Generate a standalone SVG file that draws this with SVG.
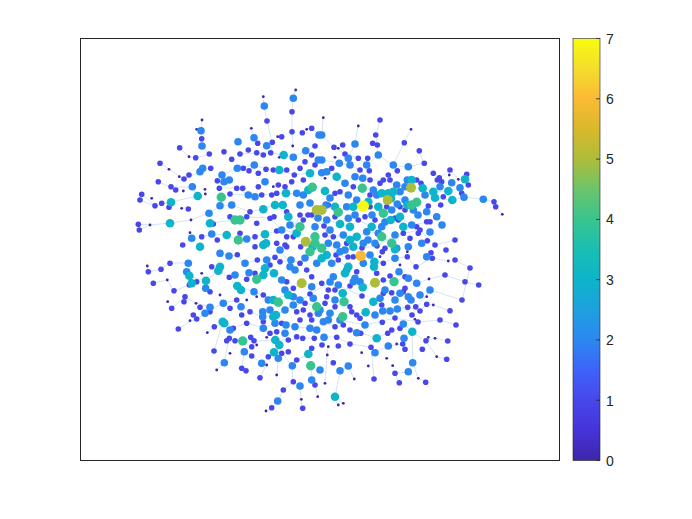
<svg xmlns="http://www.w3.org/2000/svg" width="692" height="519" viewBox="0 0 692 519">
<style>
.lbl{font-family:"Liberation Sans",Arial,sans-serif;font-size:14px;fill:#262626}
.edge{fill:none;stroke:#b6d2ec;stroke-width:0.7;stroke-opacity:0.85}
</style>
<defs>
<linearGradient id="parula" x1="0" y1="1" x2="0" y2="0">
<stop offset="0" stop-color="#3e26a8"/>
<stop offset="0.071" stop-color="#4533d8"/>
<stop offset="0.143" stop-color="#4747eb"/>
<stop offset="0.214" stop-color="#3d63f9"/>
<stop offset="0.286" stop-color="#2c87f0"/>
<stop offset="0.357" stop-color="#1fa0e0"/>
<stop offset="0.429" stop-color="#0db4ca"/>
<stop offset="0.5" stop-color="#19bfb3"/>
<stop offset="0.571" stop-color="#38c48e"/>
<stop offset="0.643" stop-color="#6cc46b"/>
<stop offset="0.714" stop-color="#adbd3a"/>
<stop offset="0.786" stop-color="#dab82b"/>
<stop offset="0.857" stop-color="#fbba35"/>
<stop offset="0.929" stop-color="#f4dd2d"/>
<stop offset="1" stop-color="#f9fb0e"/>
</linearGradient>
<circle id="n0" r="1.4" fill="#3e26a8"/>
<circle id="n1" r="2.8" fill="#4747eb"/>
<circle id="n2" r="3.8" fill="#2c87f0"/>
<circle id="n3" r="4.3" fill="#0db4ca"/>
<circle id="n4" r="4.7" fill="#38c48e"/>
<circle id="n5" r="5" fill="#adbd3a"/>
<circle id="n6" r="5.3" fill="#fbba35"/>
<circle id="n7" r="5.7" fill="#f9fb0e"/>
</defs>
<rect x="0" y="0" width="692" height="519" fill="#ffffff"/>
<g id="axes">
<rect x="80.5" y="38.5" width="479" height="422" fill="#ffffff" stroke="#262626" stroke-width="1"/>
</g>
<g id="connectors">
<path class="edge" d="M240 154 L256 153 L271 153 L284 155 L293 157 L306 151 L315 146 M222 175 L237 168 L254 165 L266 169 L279 170 L294 175 L310 173 M219 188 L237 188 L248 195 L262 195 L277 193 L286 193 L303 195 M209 213 L220 206 L232 205 L250 212 L263 209 L275 205 L288 217 L300 227 M210 223 L235 220 L247 217 L270 218 L282 230 L297 233 M201 237 L212 234 L227 235 L238 240 L255 237 L265 234 L277 231 M321 135 L334 147 L345 154 L358 158 L367 165 L378 155 L393 165 L408 167 M322 160 L339 163 L350 165 L360 170 L370 180 L383 180 L397 185 L411 188 L423 188 L433 192 M327 172 L337 177 L345 183 L353 187 L362 188 L373 190 L382 193 L393 192 L407 205 L417 202 M322 210 L335 207 L338 212 L347 207 L353 207 L363 206 L370 207 L378 207 L388 200 L398 204 M327 220 L340 224 L350 227 L358 220 L372 227 L382 227 L391 220 L400 217 L412 225 L427 222 M325 235 L333 237 L343 235 L357 237 L367 232 L378 233 L382 237 L392 243 L403 233 L410 238 M220 253 L229 256 L237 255 L245 263 L257 260 L267 260 L275 257 L280 262 L291 260 L300 263 L310 252 M189 276 L206 281 L218 271 L229 277 L237 286 L254 292 L263 295 L274 300 L286 295 L294 288 L302 283 M205 313 L223 303 L237 300 L250 312 L263 317 L276 315 L294 305 L305 303 L317 307 M214 327 L224 323 L233 328 L247 323 L264 328 L275 323 L286 325 L296 327 L310 328 M227 341 L243 341 L254 341 L276 340 L288 340 L303 338 L314 338 M244 352 L252 356 L262 363 L274 352 L282 353 L292 366 L297 360 L308 354 M322 258 L332 263 L338 260 L347 267 L353 257 L361 256 L370 255 L374 262 L383 263 L395 258 L407 257 L416 267 L432 258 M321 283 L328 290 L335 290 L343 293 L350 286 L355 278 L363 287 L375 283 L383 280 L394 282 L405 277 L417 283 M320 310 L330 313 L335 307 L344 302 L350 307 L357 315 L366 312 L373 302 L382 305 L390 311 L397 309 L408 307 L420 311 M323 322 L335 327 L343 325 L350 330 L361 333 L376 338 L388 333 L400 328 L404 324 L412 332 M324 337 L337 337 L350 344 L371 347 L375 353 L388 346 L403 344 L405 349 M295 90 L293 98 L292 112 L292 132 L293 146 M263 97 L264 106 L267 121 L272 142 L271 153 M202 120 L201 131 L202 139 L202 146 L209 154 M197 129 L201 131 M180 148 L189 157 L196 158 L209 154 M160 163 L169 169 L184 179 L200 172 M158 182 L171 187 L192 187 L198 196 M142 194 L155 206 L171 202 L198 196 M140 200 L155 206 M138 224 L150 225 L170 223 L191 220 L209 213 M139 230 L150 225 M251 128 L254 138 L258 143 M307 129 L312 128 L319 135 M323 118 L322 135 M358 126 L355 144 L348 158 M380 120 L376 135 L377 145 L378 155 M411 129 L404 143 L393 165 M419 151 L424 163 L408 167 M502 214 L496 207 L494 202 L483 199 L464 197 L452 200 L435 198 M467 174 L465 179 L460 188 L448 191 L433 192 M458 179 L450 170 L439 178 L433 173 M148 272 L161 269 L170 263 L188 263 M147 266 L148 272 M153 283 L167 280 L174 291 L189 285 L192 283 M172 308 L185 297 L196 303 L210 307 M178 329 L191 321 L197 319 L205 313 M214 351 L223 321 M207 333 L214 327 M217 370 L224 363 L229 338 M266 411 L272 408 L278 401 L283 390 L293 382 L292 366 M302 408 L301 399 L300 386 L293 382 M318 397 L315 385 L312 380 L311 366 M335 397 L340 371 L348 366 M343 403 L335 397 M338 405 L335 397 M374 379 L371 347 L375 353 M354 379 L348 366 M399 383 L395 373 L408 372 L413 363 L412 332 M426 382 L418 378 L413 363 M447 359 L437 357 L426 341 L412 332 M448 341 L435 338 L426 341 M450 311 L433 305 L427 304 L420 311 M465 282 L445 275 L429 279 L417 283 M479 285 L465 282 M448 261 L432 258 M256 378 L260 378 L266 365 M277 375 L278 358 M246 371 L242 368 L244 352 M325 383 L327 355 L328 347 M300 205 L310 203 L318 218 L330 230 L345 250 L362 248 L377 246 L395 235 L420 230 L435 245 L455 240 M285 245 L300 215 L308 215 L324 226 L336 255 L348 257 M385 290 L395 300 L412 315 L430 290 L462 300 L470 268 L455 260 M340 320 L365 325 L395 318 L418 322 L440 320 L456 325 M230 194 L248 195 M280 250 L295 270 L305 258 M285 310 L310 294 L330 282 L362 296"/>
</g>
<g id="nodes">
<g id="deg0">
<use href="#n0" x="295.7" y="90"/><use href="#n0" x="263.3" y="96.7"/><use href="#n0" x="202" y="120"/><use href="#n0" x="196.7" y="129.3"/><use href="#n0" x="189" y="156.7"/><use href="#n0" x="251.3" y="128.3"/><use href="#n0" x="277.7" y="136.7"/><use href="#n0" x="306.7" y="129.3"/><use href="#n0" x="292.7" y="146"/><use href="#n0" x="279.3" y="157.3"/><use href="#n0" x="169" y="169.3"/><use href="#n0" x="179.3" y="176.7"/><use href="#n0" x="183.3" y="191"/><use href="#n0" x="151.7" y="198.3"/><use href="#n0" x="181.7" y="208.3"/><use href="#n0" x="150" y="225"/><use href="#n0" x="191" y="220"/><use href="#n0" x="205.3" y="194"/><use href="#n0" x="205" y="189.3"/><use href="#n0" x="273.3" y="186.7"/><use href="#n0" x="190" y="232.7"/>
<use href="#n0" x="323.3" y="117.7"/><use href="#n0" x="358.3" y="126"/><use href="#n0" x="411" y="129.3"/><use href="#n0" x="338.3" y="148.3"/><use href="#n0" x="335" y="157.3"/><use href="#n0" x="325" y="178.3"/><use href="#n0" x="449.3" y="175"/><use href="#n0" x="458.3" y="179.3"/><use href="#n0" x="502.3" y="214.3"/>
<use href="#n0" x="147.3" y="266"/><use href="#n0" x="167.3" y="280"/><use href="#n0" x="167.7" y="301.7"/><use href="#n0" x="201.7" y="273.3"/><use href="#n0" x="196" y="303.3"/><use href="#n0" x="190" y="320.7"/><use href="#n0" x="207.3" y="332.7"/><use href="#n0" x="220" y="295"/><use href="#n0" x="256.7" y="296.7"/><use href="#n0" x="246.7" y="300"/><use href="#n0" x="230" y="353.3"/><use href="#n0" x="216.7" y="370"/><use href="#n0" x="256.7" y="345"/><use href="#n0" x="266.7" y="337.3"/><use href="#n0" x="266.7" y="365"/><use href="#n0" x="276.7" y="375"/><use href="#n0" x="266" y="411"/><use href="#n0" x="301.3" y="399.3"/><use href="#n0" x="317.7" y="396.7"/>
<use href="#n0" x="380" y="256.7"/><use href="#n0" x="407.3" y="251.7"/><use href="#n0" x="400" y="265"/><use href="#n0" x="448.3" y="261"/><use href="#n0" x="429" y="279"/><use href="#n0" x="415" y="319.3"/><use href="#n0" x="396.7" y="344"/><use href="#n0" x="426.7" y="296.7"/><use href="#n0" x="433.3" y="305"/><use href="#n0" x="428.3" y="337.3"/><use href="#n0" x="435" y="338.3"/><use href="#n0" x="436.7" y="356.7"/><use href="#n0" x="418.3" y="378.3"/><use href="#n0" x="392.7" y="365.7"/><use href="#n0" x="386.7" y="358.3"/><use href="#n0" x="368.3" y="366"/><use href="#n0" x="361.7" y="352.7"/><use href="#n0" x="354.3" y="379"/><use href="#n0" x="328.3" y="346.7"/><use href="#n0" x="327.3" y="355"/><use href="#n0" x="325" y="383.3"/><use href="#n0" x="343.3" y="403.3"/><use href="#n0" x="338.3" y="405"/>
</g>
<g id="deg1">
<use href="#n1" x="292" y="111.7"/><use href="#n1" x="267" y="121"/><use href="#n1" x="201.7" y="138.7"/><use href="#n1" x="179.7" y="147.7"/><use href="#n1" x="195.7" y="157.7"/><use href="#n1" x="209.3" y="154"/><use href="#n1" x="224" y="151.7"/><use href="#n1" x="257.7" y="143.3"/><use href="#n1" x="272.3" y="142.3"/><use href="#n1" x="281.7" y="136.7"/><use href="#n1" x="292" y="131.7"/><use href="#n1" x="302.3" y="132.7"/><use href="#n1" x="311.7" y="128.3"/><use href="#n1" x="315" y="146"/><use href="#n1" x="270.7" y="152.7"/><use href="#n1" x="263.3" y="155"/><use href="#n1" x="256.7" y="152.7"/><use href="#n1" x="248.3" y="150"/><use href="#n1" x="240" y="154"/><use href="#n1" x="231.7" y="159.3"/><use href="#n1" x="210.7" y="168.3"/><use href="#n1" x="160" y="163.3"/><use href="#n1" x="158.3" y="181.7"/><use href="#n1" x="184" y="179"/><use href="#n1" x="189" y="175"/><use href="#n1" x="171" y="186.7"/><use href="#n1" x="175.7" y="190"/><use href="#n1" x="141.7" y="194.3"/><use href="#n1" x="140" y="200"/><use href="#n1" x="155" y="205.7"/><use href="#n1" x="161.7" y="203.3"/><use href="#n1" x="169" y="207.3"/><use href="#n1" x="188.3" y="209"/><use href="#n1" x="138.3" y="224.3"/><use href="#n1" x="139.3" y="230"/><use href="#n1" x="219.3" y="188.3"/><use href="#n1" x="217.3" y="180.7"/><use href="#n1" x="243.3" y="168.3"/><use href="#n1" x="249" y="170.7"/><use href="#n1" x="258.3" y="173.3"/><use href="#n1" x="266" y="169.3"/><use href="#n1" x="273.3" y="170"/><use href="#n1" x="286.7" y="170"/><use href="#n1" x="294.3" y="175"/><use href="#n1" x="300" y="168.3"/><use href="#n1" x="315" y="165"/><use href="#n1" x="311.7" y="155"/><use href="#n1" x="305" y="161.7"/><use href="#n1" x="236.7" y="188.3"/><use href="#n1" x="242.7" y="188.3"/><use href="#n1" x="261.7" y="195"/><use href="#n1" x="258.3" y="186.7"/><use href="#n1" x="271.7" y="195"/><use href="#n1" x="276.7" y="193.3"/><use href="#n1" x="278.3" y="185"/><use href="#n1" x="285" y="186.7"/><use href="#n1" x="291.7" y="181.7"/><use href="#n1" x="303.3" y="180"/><use href="#n1" x="311.7" y="215"/><use href="#n1" x="303.3" y="220"/><use href="#n1" x="213.3" y="224"/><use href="#n1" x="230" y="216.7"/><use href="#n1" x="255" y="236.7"/><use href="#n1" x="276.7" y="231"/><use href="#n1" x="286.7" y="236.7"/><use href="#n1" x="293.3" y="236.7"/><use href="#n1" x="276.7" y="243.3"/><use href="#n1" x="270" y="218.3"/><use href="#n1" x="274" y="216.7"/><use href="#n1" x="250" y="211.7"/><use href="#n1" x="246.7" y="216.7"/><use href="#n1" x="217.3" y="240"/><use href="#n1" x="201.7" y="236.7"/><use href="#n1" x="182.7" y="245"/><use href="#n1" x="255" y="246.7"/><use href="#n1" x="286.7" y="246.7"/><use href="#n1" x="300.7" y="246.7"/><use href="#n1" x="240" y="233.3"/><use href="#n1" x="256.7" y="223.3"/><use href="#n1" x="286.7" y="211.7"/>
<use href="#n1" x="380" y="120"/><use href="#n1" x="375.7" y="135"/><use href="#n1" x="404.3" y="142.7"/><use href="#n1" x="419.3" y="150.7"/><use href="#n1" x="424.3" y="163.3"/><use href="#n1" x="397.3" y="170.7"/><use href="#n1" x="388.3" y="175"/><use href="#n1" x="383.3" y="180"/><use href="#n1" x="372.7" y="143.3"/><use href="#n1" x="377.3" y="145"/><use href="#n1" x="342.7" y="145"/><use href="#n1" x="334" y="147.3"/><use href="#n1" x="345" y="154"/><use href="#n1" x="331.7" y="168.3"/><use href="#n1" x="358.3" y="158.3"/><use href="#n1" x="367.7" y="158.3"/><use href="#n1" x="360" y="170"/><use href="#n1" x="369.3" y="170.7"/><use href="#n1" x="370" y="180"/><use href="#n1" x="353.3" y="186.7"/><use href="#n1" x="340" y="191.7"/><use href="#n1" x="335" y="193.3"/><use href="#n1" x="380" y="183.3"/><use href="#n1" x="390" y="180"/><use href="#n1" x="416.7" y="180"/><use href="#n1" x="421" y="183.3"/><use href="#n1" x="370" y="195"/><use href="#n1" x="433.3" y="173.3"/><use href="#n1" x="439.3" y="177.7"/><use href="#n1" x="437.3" y="180"/><use href="#n1" x="441.7" y="181.7"/><use href="#n1" x="450" y="170"/><use href="#n1" x="466.7" y="174.3"/><use href="#n1" x="468.3" y="185"/><use href="#n1" x="443.3" y="196.7"/><use href="#n1" x="461.7" y="193.3"/><use href="#n1" x="494" y="201.7"/><use href="#n1" x="495.7" y="206.7"/><use href="#n1" x="440.7" y="205"/><use href="#n1" x="428.3" y="206"/><use href="#n1" x="405" y="210"/><use href="#n1" x="400" y="206.7"/><use href="#n1" x="386.7" y="206.7"/><use href="#n1" x="370" y="206.7"/><use href="#n1" x="328.3" y="205"/><use href="#n1" x="335" y="216.7"/><use href="#n1" x="358.3" y="220"/><use href="#n1" x="365" y="216.7"/><use href="#n1" x="375" y="220"/><use href="#n1" x="398.3" y="220"/><use href="#n1" x="416.7" y="226.7"/><use href="#n1" x="418.3" y="233.3"/><use href="#n1" x="426.7" y="221.7"/><use href="#n1" x="430" y="221.7"/><use href="#n1" x="410" y="238.3"/><use href="#n1" x="403.3" y="233.3"/><use href="#n1" x="333.3" y="236.7"/><use href="#n1" x="325" y="235"/><use href="#n1" x="346.7" y="243.3"/><use href="#n1" x="427.3" y="240.7"/><use href="#n1" x="385" y="248.3"/>
<use href="#n1" x="148.3" y="271.7"/><use href="#n1" x="161" y="269.3"/><use href="#n1" x="170" y="263.3"/><use href="#n1" x="153.3" y="283.3"/><use href="#n1" x="174" y="290.7"/><use href="#n1" x="185" y="296.7"/><use href="#n1" x="184" y="301.7"/><use href="#n1" x="171.7" y="308.3"/><use href="#n1" x="189.3" y="285"/><use href="#n1" x="196.7" y="281.7"/><use href="#n1" x="210" y="291.7"/><use href="#n1" x="200" y="307.3"/><use href="#n1" x="210" y="311.7"/><use href="#n1" x="193.3" y="315"/><use href="#n1" x="196.7" y="319"/><use href="#n1" x="178.3" y="329"/><use href="#n1" x="214.3" y="326.7"/><use href="#n1" x="211.7" y="266.7"/><use href="#n1" x="237.3" y="254.7"/><use href="#n1" x="229.3" y="277.3"/><use href="#n1" x="246.7" y="279.3"/><use href="#n1" x="255" y="273.3"/><use href="#n1" x="257.3" y="260"/><use href="#n1" x="270" y="265"/><use href="#n1" x="275" y="257.3"/><use href="#n1" x="280" y="261.7"/><use href="#n1" x="286.7" y="281.7"/><use href="#n1" x="300" y="263.3"/><use href="#n1" x="306.7" y="270"/><use href="#n1" x="311.7" y="276.7"/><use href="#n1" x="293.3" y="288.3"/><use href="#n1" x="263.3" y="295"/><use href="#n1" x="250" y="311.7"/><use href="#n1" x="241.7" y="315"/><use href="#n1" x="230" y="308.3"/><use href="#n1" x="236.7" y="300"/><use href="#n1" x="233.3" y="328.3"/><use href="#n1" x="229.3" y="338.3"/><use href="#n1" x="226.7" y="340.7"/><use href="#n1" x="235" y="340.7"/><use href="#n1" x="250.7" y="337.3"/><use href="#n1" x="246.7" y="323.3"/><use href="#n1" x="254" y="340.7"/><use href="#n1" x="251.7" y="346.7"/><use href="#n1" x="263.3" y="321.7"/><use href="#n1" x="281.7" y="323.3"/><use href="#n1" x="276.7" y="331.7"/><use href="#n1" x="270" y="333.3"/><use href="#n1" x="288.3" y="340"/><use href="#n1" x="296.7" y="336.7"/><use href="#n1" x="302.7" y="338.3"/><use href="#n1" x="300" y="320"/><use href="#n1" x="296.7" y="311.7"/><use href="#n1" x="303.3" y="310"/><use href="#n1" x="305" y="303.3"/><use href="#n1" x="310" y="315"/><use href="#n1" x="311.7" y="320"/><use href="#n1" x="314.3" y="338.3"/><use href="#n1" x="311.7" y="348.3"/><use href="#n1" x="296.7" y="360"/><use href="#n1" x="288.3" y="351.7"/><use href="#n1" x="281.7" y="353.3"/><use href="#n1" x="268.3" y="356.7"/><use href="#n1" x="251.7" y="356"/><use href="#n1" x="214" y="351"/><use href="#n1" x="241.7" y="368.3"/><use href="#n1" x="246" y="370.7"/><use href="#n1" x="260" y="377.7"/><use href="#n1" x="283.3" y="390"/><use href="#n1" x="271.7" y="407.7"/><use href="#n1" x="302.7" y="408.3"/><use href="#n1" x="293.3" y="381.7"/><use href="#n1" x="315" y="385"/>
<use href="#n1" x="338.3" y="260"/><use href="#n1" x="353.3" y="256.7"/><use href="#n1" x="383.3" y="263.3"/><use href="#n1" x="382.3" y="251.7"/><use href="#n1" x="407.3" y="256.7"/><use href="#n1" x="432.3" y="258.3"/><use href="#n1" x="431" y="252.7"/><use href="#n1" x="416" y="266.7"/><use href="#n1" x="445" y="275"/><use href="#n1" x="405" y="276.7"/><use href="#n1" x="390" y="276"/><use href="#n1" x="383.3" y="280"/><use href="#n1" x="376.7" y="273.3"/><use href="#n1" x="356.7" y="271.7"/><use href="#n1" x="350" y="286"/><use href="#n1" x="335" y="290"/><use href="#n1" x="328.3" y="290"/><use href="#n1" x="321.7" y="283.3"/><use href="#n1" x="326.7" y="296.7"/><use href="#n1" x="325" y="303.3"/><use href="#n1" x="335" y="306.7"/><use href="#n1" x="350" y="306.7"/><use href="#n1" x="351.7" y="311.7"/><use href="#n1" x="356.7" y="315"/><use href="#n1" x="360" y="318.3"/><use href="#n1" x="335" y="326.7"/><use href="#n1" x="343.3" y="325"/><use href="#n1" x="350" y="330"/><use href="#n1" x="360.7" y="333.3"/><use href="#n1" x="336.7" y="337.3"/><use href="#n1" x="350" y="344"/><use href="#n1" x="338.3" y="346"/><use href="#n1" x="333.3" y="362.7"/><use href="#n1" x="371" y="347.3"/><use href="#n1" x="391.7" y="330"/><use href="#n1" x="387.7" y="333.3"/><use href="#n1" x="402.7" y="344"/><use href="#n1" x="405" y="349.3"/><use href="#n1" x="400" y="328.3"/><use href="#n1" x="420" y="311"/><use href="#n1" x="415.7" y="306.7"/><use href="#n1" x="407.7" y="307.3"/><use href="#n1" x="381.7" y="305"/><use href="#n1" x="382.3" y="322.3"/><use href="#n1" x="383.3" y="293.3"/><use href="#n1" x="391.7" y="292.7"/><use href="#n1" x="403.3" y="291.7"/><use href="#n1" x="405" y="288.3"/><use href="#n1" x="426.7" y="304.3"/><use href="#n1" x="450" y="310.7"/><use href="#n1" x="465" y="281.7"/><use href="#n1" x="478.7" y="285"/><use href="#n1" x="426" y="340.7"/><use href="#n1" x="422.3" y="349.3"/><use href="#n1" x="447.7" y="341"/><use href="#n1" x="446.7" y="359.3"/><use href="#n1" x="425.7" y="382.3"/><use href="#n1" x="399.3" y="382.7"/><use href="#n1" x="395" y="373.3"/><use href="#n1" x="374" y="379"/>
<use href="#n1" x="308" y="215"/><use href="#n1" x="324" y="226"/><use href="#n1" x="336" y="255"/><use href="#n1" x="348" y="257"/><use href="#n1" x="362" y="248"/><use href="#n1" x="377" y="246"/><use href="#n1" x="395" y="218"/><use href="#n1" x="420" y="230"/><use href="#n1" x="435" y="245"/><use href="#n1" x="446" y="250"/><use href="#n1" x="455" y="240"/><use href="#n1" x="310" y="294"/><use href="#n1" x="322" y="345"/><use href="#n1" x="362" y="296"/><use href="#n1" x="395" y="318"/><use href="#n1" x="412" y="315"/><use href="#n1" x="418" y="322"/><use href="#n1" x="440" y="320"/><use href="#n1" x="456" y="325"/><use href="#n1" x="462" y="300"/><use href="#n1" x="470" y="268"/><use href="#n1" x="455" y="260"/><use href="#n1" x="300" y="215"/><use href="#n1" x="285" y="245"/><use href="#n1" x="230" y="194"/>
</g>
<g id="deg2">
<use href="#n2" x="293.3" y="98.3"/><use href="#n2" x="264.3" y="106"/><use href="#n2" x="201" y="130.7"/><use href="#n2" x="202" y="146"/><use href="#n2" x="238" y="141.7"/><use href="#n2" x="254" y="137.7"/><use href="#n2" x="266.7" y="145.7"/><use href="#n2" x="319" y="135"/><use href="#n2" x="305.7" y="150.7"/><use href="#n2" x="293.3" y="157.3"/><use href="#n2" x="202.7" y="168.3"/><use href="#n2" x="200" y="171.7"/><use href="#n2" x="192.3" y="186.7"/><use href="#n2" x="209" y="213.3"/><use href="#n2" x="220" y="205.7"/><use href="#n2" x="224" y="181.7"/><use href="#n2" x="229.3" y="180"/><use href="#n2" x="222" y="175"/><use href="#n2" x="237.3" y="168.3"/><use href="#n2" x="254.3" y="165"/><use href="#n2" x="318.3" y="160"/><use href="#n2" x="231.7" y="205"/><use href="#n2" x="248.3" y="195"/><use href="#n2" x="255" y="196.7"/><use href="#n2" x="265" y="181.7"/><use href="#n2" x="296.7" y="193.3"/><use href="#n2" x="303.3" y="195"/><use href="#n2" x="315" y="226.7"/><use href="#n2" x="246.7" y="239"/><use href="#n2" x="281.7" y="230"/><use href="#n2" x="211.7" y="234"/><use href="#n2" x="191.7" y="238.3"/>
<use href="#n2" x="321.7" y="135"/><use href="#n2" x="408.3" y="166.7"/><use href="#n2" x="393.3" y="165"/><use href="#n2" x="378.3" y="155"/><use href="#n2" x="366.7" y="165"/><use href="#n2" x="355" y="144"/><use href="#n2" x="348.3" y="158.3"/><use href="#n2" x="339.3" y="163.3"/><use href="#n2" x="321.7" y="160"/><use href="#n2" x="350" y="165"/><use href="#n2" x="355" y="176.7"/><use href="#n2" x="326.7" y="171.7"/><use href="#n2" x="321.7" y="172.7"/><use href="#n2" x="362.7" y="178.3"/><use href="#n2" x="345" y="183.3"/><use href="#n2" x="348.3" y="195"/><use href="#n2" x="373.3" y="190"/><use href="#n2" x="396.7" y="185"/><use href="#n2" x="407.3" y="180"/><use href="#n2" x="405" y="186.7"/><use href="#n2" x="400" y="191.7"/><use href="#n2" x="376.7" y="195"/><use href="#n2" x="451.7" y="182.7"/><use href="#n2" x="460" y="187.7"/><use href="#n2" x="440" y="186.7"/><use href="#n2" x="425" y="195"/><use href="#n2" x="464" y="197.3"/><use href="#n2" x="483.3" y="199.3"/><use href="#n2" x="436.7" y="216.7"/><use href="#n2" x="426.7" y="211.7"/><use href="#n2" x="405" y="200"/><use href="#n2" x="413.3" y="210"/><use href="#n2" x="397.3" y="204"/><use href="#n2" x="391.7" y="210"/><use href="#n2" x="356.7" y="200"/><use href="#n2" x="346.7" y="206.7"/><use href="#n2" x="326.7" y="220"/><use href="#n2" x="348.3" y="218.3"/><use href="#n2" x="381.7" y="226.7"/><use href="#n2" x="411.7" y="225"/><use href="#n2" x="378.3" y="233.3"/><use href="#n2" x="366.7" y="231.7"/><use href="#n2" x="343.3" y="235"/><use href="#n2" x="328.3" y="243.3"/><use href="#n2" x="336.7" y="245"/><use href="#n2" x="363.3" y="243.3"/><use href="#n2" x="375" y="243.3"/><use href="#n2" x="396.7" y="248.3"/><use href="#n2" x="408.3" y="246.7"/><use href="#n2" x="421.7" y="243.3"/>
<use href="#n2" x="186.7" y="271.7"/><use href="#n2" x="188.3" y="263.3"/><use href="#n2" x="205.7" y="288.3"/><use href="#n2" x="210" y="307.3"/><use href="#n2" x="205" y="313.3"/><use href="#n2" x="223.3" y="303.3"/><use href="#n2" x="220" y="253.3"/><use href="#n2" x="229" y="256"/><use href="#n2" x="235" y="275"/><use href="#n2" x="245" y="263.3"/><use href="#n2" x="249" y="272.7"/><use href="#n2" x="254" y="291.7"/><use href="#n2" x="266.7" y="260"/><use href="#n2" x="281.7" y="280"/><use href="#n2" x="290" y="266.7"/><use href="#n2" x="291" y="260"/><use href="#n2" x="311.7" y="286.7"/><use href="#n2" x="316.7" y="263.3"/><use href="#n2" x="285" y="290"/><use href="#n2" x="293.3" y="296.7"/><use href="#n2" x="268.3" y="300"/><use href="#n2" x="241" y="306.7"/><use href="#n2" x="230" y="330"/><use href="#n2" x="263.3" y="328.3"/><use href="#n2" x="262.7" y="316.7"/><use href="#n2" x="262.7" y="311.7"/><use href="#n2" x="270" y="310"/><use href="#n2" x="275" y="323.3"/><use href="#n2" x="286" y="325"/><use href="#n2" x="285" y="333.3"/><use href="#n2" x="295" y="326.7"/><use href="#n2" x="300" y="300"/><use href="#n2" x="293.3" y="305"/><use href="#n2" x="313.3" y="298.3"/><use href="#n2" x="318.3" y="313.3"/><use href="#n2" x="310" y="328.3"/><use href="#n2" x="316.7" y="330"/><use href="#n2" x="292.3" y="365.7"/><use href="#n2" x="278.3" y="358.3"/><use href="#n2" x="261.7" y="363.3"/><use href="#n2" x="244.3" y="351.7"/><use href="#n2" x="224.3" y="362.7"/><use href="#n2" x="277.7" y="401"/><use href="#n2" x="300" y="386"/><use href="#n2" x="311.7" y="380"/><use href="#n2" x="320" y="370"/>
<use href="#n2" x="370" y="255"/><use href="#n2" x="346.7" y="270"/><use href="#n2" x="333.3" y="276.7"/><use href="#n2" x="331.7" y="263.3"/><use href="#n2" x="340" y="251.7"/><use href="#n2" x="363.3" y="263.3"/><use href="#n2" x="395" y="258.3"/><use href="#n2" x="426.7" y="256.7"/><use href="#n2" x="416.7" y="283.3"/><use href="#n2" x="408.3" y="278.3"/><use href="#n2" x="399" y="271.7"/><use href="#n2" x="353.3" y="281.7"/><use href="#n2" x="355" y="278.3"/><use href="#n2" x="360" y="281.7"/><use href="#n2" x="338.3" y="285"/><use href="#n2" x="335" y="300"/><use href="#n2" x="320" y="310"/><use href="#n2" x="330" y="313.3"/><use href="#n2" x="323.3" y="321.7"/><use href="#n2" x="328.3" y="320"/><use href="#n2" x="356.7" y="332.7"/><use href="#n2" x="324" y="337.3"/><use href="#n2" x="340" y="370.7"/><use href="#n2" x="348.3" y="366"/><use href="#n2" x="375" y="352.7"/><use href="#n2" x="388.3" y="346"/><use href="#n2" x="404" y="338.3"/><use href="#n2" x="403.3" y="324"/><use href="#n2" x="411" y="300"/><use href="#n2" x="408.3" y="296.7"/><use href="#n2" x="397.3" y="309"/><use href="#n2" x="390" y="311"/><use href="#n2" x="382.7" y="311"/><use href="#n2" x="380" y="298.3"/><use href="#n2" x="375" y="315"/><use href="#n2" x="400" y="293.3"/><use href="#n2" x="412.7" y="362.7"/><use href="#n2" x="408.3" y="371.7"/>
<use href="#n2" x="330" y="198"/><use href="#n2" x="318" y="218"/><use href="#n2" x="310" y="203"/><use href="#n2" x="330" y="230"/><use href="#n2" x="345" y="250"/><use href="#n2" x="355" y="215"/><use href="#n2" x="372" y="215"/><use href="#n2" x="385" y="222"/><use href="#n2" x="395" y="235"/><use href="#n2" x="418" y="215"/><use href="#n2" x="430" y="232"/><use href="#n2" x="442" y="225"/><use href="#n2" x="300" y="205"/><use href="#n2" x="290" y="225"/><use href="#n2" x="280" y="250"/><use href="#n2" x="295" y="270"/><use href="#n2" x="305" y="258"/><use href="#n2" x="285" y="310"/><use href="#n2" x="330" y="282"/><use href="#n2" x="340" y="320"/><use href="#n2" x="365" y="325"/><use href="#n2" x="385" y="290"/><use href="#n2" x="395" y="300"/><use href="#n2" x="420" y="295"/><use href="#n2" x="430" y="290"/><use href="#n2" x="368" y="240"/><use href="#n2" x="326" y="205"/>
</g>
<g id="deg3">
<use href="#n3" x="283.7" y="155"/><use href="#n3" x="171" y="202.3"/><use href="#n3" x="170" y="223.3"/><use href="#n3" x="197.7" y="196"/><use href="#n3" x="279.3" y="170"/><use href="#n3" x="310" y="173.3"/><use href="#n3" x="286" y="193.3"/><use href="#n3" x="308.3" y="190"/><use href="#n3" x="263.3" y="209.3"/><use href="#n3" x="275" y="205"/><use href="#n3" x="282.7" y="205"/><use href="#n3" x="288.3" y="216.7"/><use href="#n3" x="296.7" y="233.3"/><use href="#n3" x="210" y="223.3"/><use href="#n3" x="226.7" y="235"/><use href="#n3" x="265" y="234.3"/><use href="#n3" x="266" y="243.3"/><use href="#n3" x="200" y="246.7"/><use href="#n3" x="263.3" y="245"/><use href="#n3" x="312.7" y="246.7"/>
<use href="#n3" x="336.7" y="176.7"/><use href="#n3" x="325" y="191"/><use href="#n3" x="411.7" y="180"/><use href="#n3" x="422.7" y="188.3"/><use href="#n3" x="393.3" y="191.7"/><use href="#n3" x="388.3" y="193.3"/><use href="#n3" x="381.7" y="193.3"/><use href="#n3" x="465" y="179.3"/><use href="#n3" x="448.3" y="191"/><use href="#n3" x="433.3" y="191.7"/><use href="#n3" x="435" y="197.7"/><use href="#n3" x="452.3" y="200"/><use href="#n3" x="407.3" y="205"/><use href="#n3" x="391" y="198.3"/><use href="#n3" x="378.3" y="206.7"/><use href="#n3" x="368.3" y="201.7"/><use href="#n3" x="353.3" y="206.7"/><use href="#n3" x="335" y="206.7"/><use href="#n3" x="340" y="224"/><use href="#n3" x="350" y="226.7"/><use href="#n3" x="371.7" y="226.7"/><use href="#n3" x="390.7" y="220"/><use href="#n3" x="400" y="216.7"/><use href="#n3" x="403.3" y="226.7"/><use href="#n3" x="356.7" y="236.7"/><use href="#n3" x="350" y="240"/><use href="#n3" x="353.3" y="246.7"/><use href="#n3" x="395" y="249.3"/>
<use href="#n3" x="189.3" y="275.7"/><use href="#n3" x="191.7" y="283.3"/><use href="#n3" x="206" y="280.7"/><use href="#n3" x="222.7" y="321.7"/><use href="#n3" x="224.3" y="323.3"/><use href="#n3" x="220" y="266.7"/><use href="#n3" x="218.3" y="270.7"/><use href="#n3" x="237.3" y="286"/><use href="#n3" x="241" y="290"/><use href="#n3" x="265" y="268.3"/><use href="#n3" x="263.3" y="275"/><use href="#n3" x="274" y="273.3"/><use href="#n3" x="288.3" y="295"/><use href="#n3" x="273.3" y="300"/><use href="#n3" x="273.3" y="316.7"/><use href="#n3" x="276" y="315"/><use href="#n3" x="275.3" y="340"/><use href="#n3" x="279.3" y="345"/><use href="#n3" x="274" y="352.3"/><use href="#n3" x="308.3" y="354"/>
<use href="#n3" x="342.7" y="293.3"/><use href="#n3" x="373.3" y="301.7"/><use href="#n3" x="365.7" y="312.3"/><use href="#n3" x="362.7" y="287.3"/><use href="#n3" x="374.3" y="261.7"/><use href="#n3" x="374" y="266.7"/><use href="#n3" x="345" y="273.3"/><use href="#n3" x="348.3" y="266.7"/><use href="#n3" x="326.7" y="255"/><use href="#n3" x="321.7" y="258.3"/><use href="#n3" x="376.7" y="338.3"/><use href="#n3" x="412.3" y="331.7"/><use href="#n3" x="335" y="396.7"/>
</g>
<g id="deg4">
<use href="#n4" x="221.3" y="197.3"/><use href="#n4" x="312.3" y="187.3"/><use href="#n4" x="300" y="226.7"/><use href="#n4" x="315" y="236.7"/><use href="#n4" x="315" y="243.3"/><use href="#n4" x="235" y="220"/><use href="#n4" x="240" y="220"/><use href="#n4" x="238.3" y="240"/>
<use href="#n4" x="362.3" y="188.3"/><use href="#n4" x="416.7" y="202.3"/><use href="#n4" x="411.7" y="205"/><use href="#n4" x="383.3" y="213.3"/><use href="#n4" x="338.3" y="212.3"/><use href="#n4" x="381.7" y="236.7"/><use href="#n4" x="391.7" y="243.3"/><use href="#n4" x="321.7" y="248.3"/>
<use href="#n4" x="256.7" y="279.3"/><use href="#n4" x="310" y="251.7"/><use href="#n4" x="278.3" y="302.3"/><use href="#n4" x="316.7" y="306.7"/><use href="#n4" x="242.7" y="341"/><use href="#n4" x="310.7" y="365.7"/>
<use href="#n4" x="394" y="281.7"/><use href="#n4" x="344" y="301.7"/><use href="#n4" x="342.7" y="316.7"/>
</g>
<g id="deg5">
<use href="#n5" x="305.7" y="241.7"/><use href="#n5" x="316.7" y="210"/><use href="#n5" x="411" y="187.7"/><use href="#n5" x="387.7" y="200"/><use href="#n5" x="321.7" y="210"/><use href="#n5" x="301.7" y="283.3"/><use href="#n5" x="375" y="282.7"/>
</g>
<g id="deg6"><use href="#n6" x="360.7" y="255.7"/></g>
<g id="deg7"><use href="#n7" x="363.3" y="206"/></g>
</g>
<g id="colorbar">
<rect x="573" y="38.5" width="27" height="422" fill="url(#parula)" stroke="#262626" stroke-width="0.6"/>
<g stroke="#262626" stroke-width="0.8">
<line x1="596" y1="460.5" x2="600" y2="460.5"/>
<line x1="596" y1="400.2" x2="600" y2="400.2"/>
<line x1="596" y1="339.9" x2="600" y2="339.9"/>
<line x1="596" y1="279.6" x2="600" y2="279.6"/>
<line x1="596" y1="219.4" x2="600" y2="219.4"/>
<line x1="596" y1="159.1" x2="600" y2="159.1"/>
<line x1="596" y1="98.8" x2="600" y2="98.8"/>
<line x1="596" y1="38.5" x2="600" y2="38.5"/>
</g>
<text class="lbl" x="606" y="466">0</text>
<text class="lbl" x="606" y="405.5">1</text>
<text class="lbl" x="606" y="345">2</text>
<text class="lbl" x="606" y="284.7">3</text>
<text class="lbl" x="606" y="224.4">4</text>
<text class="lbl" x="606" y="164">5</text>
<text class="lbl" x="606" y="103.7">6</text>
<text class="lbl" x="606" y="43.5">7</text>
</g>
</svg>
